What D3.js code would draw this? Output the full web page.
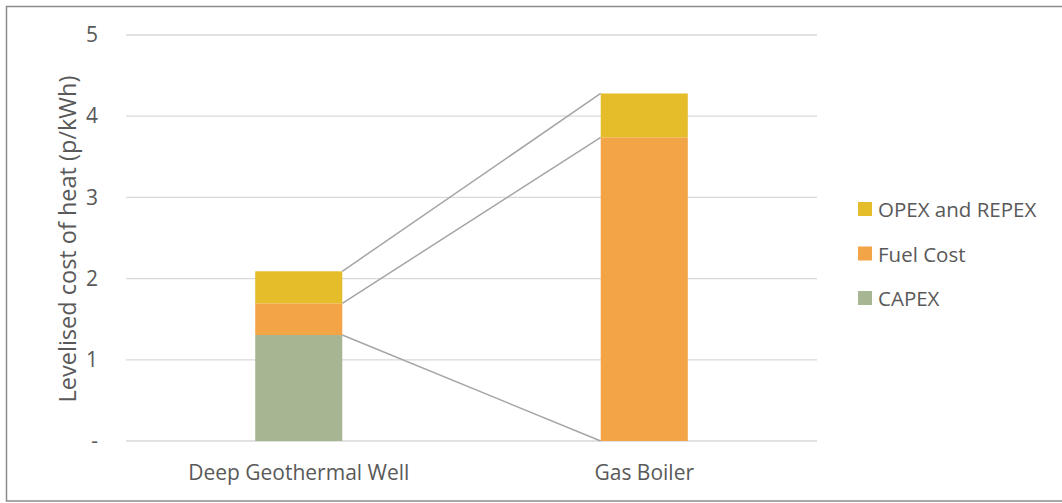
<!DOCTYPE html>
<html>
<head>
<meta charset="utf-8">
<script src="https://cdn.jsdelivr.net/npm/d3@7"></script>
<style>
  body { margin: 0; background: #fff; overflow: hidden; }
  svg { display: block; font-family: "Open Sans", sans-serif; }
</style>
</head>
<body>
<svg id="chart" width="1062" height="503"></svg>
<script>
let categories = ["Deep Geothermal Well", "Gas Boiler"];
let capex = [1.305, 0];
let fuelCost = [0.39, 3.74];
let opexRepex = [0.395, 0.54];
let seriesNames = ["CAPEX", "Fuel Cost", "OPEX and REPEX"];
let colors = ["#a6b592", "#f2a446", "#e5bc2a"];
let yTicks = [0, 1, 2, 3, 4, 5];

let svg = d3.select("#chart");

// outer frame (right edge falls outside the picture)
svg.append("rect")
    .attr("x", 6.5).attr("y", 6.5)
    .attr("width", 1070).attr("height", 494.5)
    .attr("fill", "none")
    .attr("stroke", "#8c8c8c")
    .attr("stroke-width", 1.5);

let x = d3.scaleBand()
    .domain(categories)
    .range([126, 817])
    .paddingInner(0.748)
    .paddingOuter(0.374);

let y = d3.scaleLinear().domain([0, 5]).range([441, 35]);

let rows = categories.map((c, i) => ({
    cat: c,
    "CAPEX": capex[i],
    "Fuel Cost": fuelCost[i],
    "OPEX and REPEX": opexRepex[i]
}));
let stacked = d3.stack().keys(seriesNames)(rows);

// gridlines
svg.append("g")
    .selectAll("line")
    .data(yTicks)
    .enter()
    .append("line")
    .attr("x1", 126).attr("x2", 817)
    .attr("y1", d => y(d)).attr("y2", d => y(d))
    .attr("stroke", "#d9d9d9")
    .attr("stroke-width", 1.3);

// y axis labels
let yAxis = d3.axisLeft(y)
    .tickValues(yTicks)
    .tickFormat(d => d === 0 ? "-" : d)
    .tickSize(0)
    .tickPadding(28);
let ya = svg.append("g").attr("transform", "translate(126,0)").call(yAxis);
ya.select(".domain").remove();
ya.selectAll("text")
    .attr("fill", "#595959")
    .style("font-size", "21px")
    .style("font-family", "Open Sans");

// x axis labels
let xAxis = d3.axisBottom(x).tickSize(0).tickPadding(24);
let xa = svg.append("g").attr("transform", "translate(0,441)").call(xAxis);
xa.select(".domain").remove();
xa.selectAll("text")
    .attr("fill", "#595959")
    .style("font-size", "21px")
    .style("font-family", "Open Sans");

// series lines between bars
svg.append("g")
    .selectAll("line")
    .data(stacked)
    .enter()
    .append("line")
    .attr("x1", x(categories[0]) + x.bandwidth())
    .attr("x2", x(categories[1]))
    .attr("y1", d => y(d[0][1]))
    .attr("y2", d => y(d[1][1]))
    .attr("stroke", "#a5a5a5")
    .attr("stroke-width", 1.5);

// bars
let layer = svg.append("g")
    .selectAll("g")
    .data(stacked)
    .enter()
    .append("g")
    .attr("fill", (d, i) => colors[i]);

layer.selectAll("rect")
    .data(d => d)
    .enter()
    .append("rect")
    .attr("x", d => x(d.data.cat))
    .attr("width", x.bandwidth())
    .attr("y", d => y(d[1]))
    .attr("height", d => y(d[0]) - y(d[1]));

// y axis title
svg.append("text")
    .attr("transform", "translate(76,239) rotate(-90)")
    .attr("text-anchor", "middle")
    .attr("fill", "#595959")
    .style("font-size", "23.5px")
    .text("Levelised cost of heat (p/kWh)");

// legend
let legendOrder = [2, 1, 0];
let legendItem = svg.append("g")
    .selectAll("g")
    .data(legendOrder)
    .enter()
    .append("g")
    .attr("transform", (d, i) => "translate(858," + (209 + i * 44.5) + ")");

legendItem.append("rect")
    .attr("x", 0).attr("y", -7)
    .attr("width", 14).attr("height", 14)
    .attr("fill", d => colors[d]);

legendItem.append("text")
    .attr("x", 20)
    .attr("dominant-baseline", "central")
    .attr("fill", "#595959")
    .style("font-size", "20.5px")
    .text(d => seriesNames[d]);
</script>
</body>
</html>
